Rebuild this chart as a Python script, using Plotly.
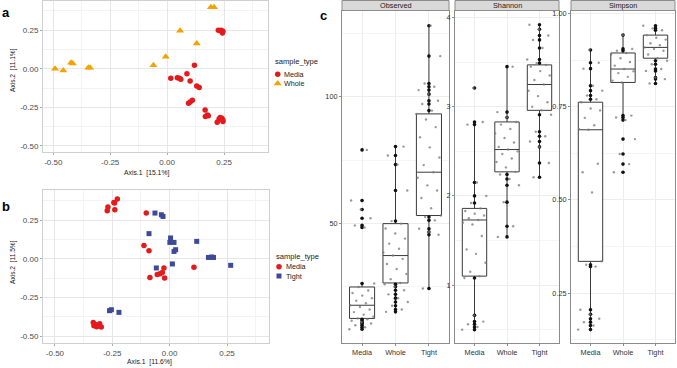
import plotly.graph_objects as go

W, H = 677, 368

# ---------------- Panel a : PCoA Media vs Whole ----------------
a_media_x = [0.016, 0.045, 0.054, 0.060, 0.087, 0.101, 0.120, 0.130, 0.141, 0.094, 0.101, 0.111,
             0.167, 0.181, 0.168, 0.177, 0.233, 0.240, 0.245, 0.228, 0.220, 0.245,
             0.225, 0.233, 0.245, 0.243, 0.237]
a_media_y = [-0.062, -0.058, -0.062, -0.069, -0.032, -0.080, 0.023, -0.112, -0.122, -0.223, -0.215, -0.204,
             -0.268, -0.305, -0.309, -0.300, -0.315, -0.321, -0.332, -0.326, -0.347, -0.341,
             0.248, 0.246, 0.242, 0.231, 0.248]
a_whole_x = [-0.492, -0.456, -0.422, -0.414, -0.346, -0.338, -0.060, -0.006, 0.057, 0.130, 0.192, 0.206]
a_whole_y = [0.000, -0.011, 0.039, 0.034, 0.006, 0.006, 0.023, 0.077, 0.246, 0.163, 0.398, 0.398]

# ---------------- Panel b : PCoA Media vs Tight ----------------
b_media_x = [-0.228, -0.240, -0.243, -0.239, -0.269, -0.272, -0.102, -0.112, -0.090, -0.086, -0.054,
             -0.042, -0.032, -0.025, -0.022, 0.106, -0.333, -0.330, -0.315, -0.305, -0.298, -0.318, -0.324]
b_media_y = [0.386, 0.360, 0.364, 0.317, 0.334, 0.310, 0.295, 0.086, 0.052, -0.121, -0.103,
             -0.097, -0.089, -0.060, -0.125, -0.056, -0.412, -0.433, -0.431, -0.420, -0.442, -0.440, -0.425]
b_tight_x = [-0.064, -0.036, -0.029, -0.090, 0.004, 0.001, 0.019, 0.019, 0.026, 0.118, 0.169, 0.183,
             0.191, 0.266, 0.012, -0.058, -0.262, -0.254, -0.221]
b_tight_y = [0.295, 0.284, 0.273, 0.162, 0.134, 0.105, 0.105, 0.047, 0.058, 0.112, 0.008, 0.011,
             0.008, -0.043, -0.034, -0.060, -0.336, -0.330, -0.347]

# ---------------- Panel c : alpha diversity ----------------
groups = ["Media", "Whole", "Tight"]
metrics = ["Observed", "Shannon", "Simpson"]

obs_media = [8.2, 9.0, 9.8, 10.5, 11.0, 11.6, 12.2, 12.5, 13.2, 14.0, 15.0, 16.0, 17.0, 17.7, 18.5, 19.5,
             20.5, 21.5, 22.5, 23.5, 24.9, 26.3, 48.4, 49.2, 52.0, 55.5, 59.0, 79.0]
obs_whole = [15.1, 16.0, 17.5, 19.0, 20.5, 22.0, 23.6, 25.0, 26.0, 26.5, 28.0, 30.0, 32.0, 34.0, 36.0, 37.3,
             38.5, 40.0, 42.0, 44.0, 46.0, 48.0, 49.9, 50.9, 63.0, 73.2, 76.8, 80.3]
obs_tight = [24.3, 45.5, 46.6, 47.9, 51.2, 52.5, 53.1, 56.0, 60.0, 63.0, 65.0, 68.0, 70.2, 73.0, 76.0, 80.0,
             84.0, 88.0, 91.0, 93.2, 94.5, 97.1, 98.4, 101.0, 102.6, 103.9, 105.2, 116.0, 128.0]
obs_q1 = [12.5, 26.5, 53.1]
obs_med = [17.7, 37.3, 70.2]
obs_q3 = [24.9, 49.9, 93.2]
obs_lo = [8.2, 15.1, 24.3]
obs_hi = [26.3, 80.3, 128.0]

sha_media = [0.50, 0.53, 0.56, 0.59, 0.66, 1.08, 1.10, 1.15, 1.25, 1.35, 1.40, 1.55, 1.68, 1.70, 1.73, 1.75,
             1.78, 1.80, 1.83, 1.86, 1.92, 2.00, 2.15, 2.80, 2.83, 3.21]
sha_whole = [1.54, 1.66, 1.93, 2.12, 2.19, 2.24, 2.27, 2.32, 2.38, 2.42, 2.47, 2.50, 2.52, 2.55, 2.60, 2.65,
             2.70, 2.75, 2.80, 2.83, 2.88, 2.94, 3.45]
sha_tight = [2.21, 2.37, 2.55, 2.61, 2.67, 2.72, 2.91, 2.96, 3.00, 3.05, 3.12, 3.18, 3.25, 3.30, 3.35, 3.40,
             3.45, 3.47, 3.49, 3.53, 3.66, 3.75, 3.80, 3.87, 3.92]
sha_q1 = [1.10, 2.27, 2.96]
sha_med = [1.73, 2.52, 3.25]
sha_q3 = [1.86, 2.83, 3.47]
sha_lo = [0.50, 1.54, 2.21]
sha_hi = [2.83, 3.45, 3.92]

sim_media = [0.152, 0.163, 0.172, 0.181, 0.193, 0.205, 0.321, 0.326, 0.335, 0.520, 0.574, 0.597, 0.688,
             0.690, 0.700, 0.720, 0.740, 0.745, 0.762, 0.770, 0.780, 0.793, 0.806, 0.852, 0.868, 0.902]
sim_whole = [0.574, 0.596, 0.623, 0.663, 0.714, 0.721, 0.726, 0.815, 0.820, 0.830, 0.840, 0.845, 0.851,
             0.860, 0.870, 0.880, 0.890, 0.894, 0.900, 0.905, 0.942]
sim_tight = [0.812, 0.824, 0.828, 0.846, 0.851, 0.864, 0.873, 0.880, 0.890, 0.900, 0.905, 0.909, 0.915,
             0.920, 0.930, 0.935, 0.942, 0.955, 0.960, 0.967]
sim_q1 = [0.335, 0.815, 0.880]
sim_med = [0.688, 0.851, 0.909]
sim_q3 = [0.762, 0.894, 0.942]
sim_lo = [0.152, 0.714, 0.812]
sim_hi = [0.902, 0.942, 0.967]

# ---------------- styling ----------------
RED = "#E41A1C"
ORANGE = "#F2A300"
BLUE = "#3D4A9C"
NARROW = "Liberation Sans Narrow, Arial Narrow, Liberation Sans, Arial, sans-serif"
REG = "Liberation Sans, Arial, sans-serif"
GRID = "#E6E6E6"
MINOR = "#F3F3F3"
DARK = "#1A1A1A"


def px_x(p):
    return p / W


def px_y(p):
    return 1 - p / H


fig = go.Figure()

# Panel a traces
fig.add_trace(go.Scatter(x=a_media_x, y=a_media_y, mode="markers", name="Media",
                         marker=dict(color=RED, size=5.5, symbol="circle"), xaxis="x", yaxis="y"))
fig.add_trace(go.Scatter(x=a_whole_x, y=a_whole_y, mode="markers", name="Whole",
                         marker=dict(color=ORANGE, size=7, symbol="triangle-up"), xaxis="x", yaxis="y"))
# Panel b traces
fig.add_trace(go.Scatter(x=b_media_x, y=b_media_y, mode="markers", name="Media",
                         marker=dict(color=RED, size=5.5, symbol="circle"), xaxis="x2", yaxis="y2"))
fig.add_trace(go.Scatter(x=b_tight_x, y=b_tight_y, mode="markers", name="Tight",
                         marker=dict(color=BLUE, size=5, symbol="square"), xaxis="x2", yaxis="y2"))

facets = [
    ([obs_media, obs_whole, obs_tight], obs_q1, obs_med, obs_q3, obs_lo, obs_hi),
    ([sha_media, sha_whole, sha_tight], sha_q1, sha_med, sha_q3, sha_lo, sha_hi),
    ([sim_media, sim_whole, sim_tight], sim_q1, sim_med, sim_q3, sim_lo, sim_hi),
]

for fi, (vals, q1, med, q3, lo, hi) in enumerate(facets):
    xa = "x%d" % (fi + 3)
    ya = "y%d" % (fi + 3)
    fig.add_trace(go.Box(x=[0, 1, 2], q1=q1, median=med, q3=q3, lowerfence=lo, upperfence=hi,
                         width=0.75, whiskerwidth=0, boxpoints=False, fillcolor="white",
                         line=dict(color="#3a3a3a", width=1), showlegend=False,
                         xaxis=xa, yaxis=ya, hoverinfo="skip"))
    for gi, v in enumerate(vals):
        # centred points: in the reference the white box hides those inside it
        vis = [t for t in v if t < q1[gi] or t > q3[gi]]
        fig.add_trace(go.Scatter(x=[gi] * len(vis), y=vis, mode="markers", showlegend=False,
                                 marker=dict(color="#111111", size=3.6),
                                 xaxis=xa, yaxis=ya, hoverinfo="skip"))
    for gi, v in enumerate(vals):
        n = len(v)
        # deterministic horizontal jitter (positions only)
        jit = [gi + ((k * 0.6180339 + 0.13 * gi) % 1.0 - 0.5) * 0.76 for k in range(n)]
        fig.add_trace(go.Scatter(x=jit, y=v, mode="markers", showlegend=False,
                                 marker=dict(color="rgba(120,120,120,0.75)", size=2.4),
                                 xaxis=xa, yaxis=ya, hoverinfo="skip"))

# legend keys (manual legend, drawn on a pixel-space overlay axis)
legend_keys = [
    (277.7, 74.3, RED, "circle", 5.5), (277.7, 83.6, ORANGE, "triangle-up", 7),
    (279.0, 266.7, RED, "circle", 5.5), (279.0, 276.0, BLUE, "square", 5),
]
for kx, ky, kc, ks, kz in legend_keys:
    fig.add_trace(go.Scatter(x=[kx], y=[ky], mode="markers", showlegend=False, hoverinfo="skip",
                             marker=dict(color=kc, symbol=ks, size=kz), xaxis="x6", yaxis="y6"))

tickfont_ab = dict(family=NARROW, size=8, color="#4D4D4D")


def pcoa_axis(dom, rng, anchor, ticks):
    return dict(domain=dom, range=rng, anchor=anchor, tickvals=ticks,
                ticktext=["%.2f" % t for t in ticks],
                showgrid=True, gridcolor=GRID, gridwidth=1,
                minor=dict(showgrid=True, gridcolor=MINOR, gridwidth=0.6,
                           tickvals=[-0.625, -0.375, -0.125, 0.125, 0.375]),
                zeroline=False, showline=True, mirror=True, linecolor="#CFCFCF", linewidth=1,
                ticks="outside", ticklen=2, tickcolor="#AAAAAA", tickfont=tickfont_ab)


ab_ticks = [-0.50, -0.25, 0.00, 0.25]
layout = dict(
    width=W, height=H, margin=dict(l=0, r=0, t=0, b=0), showlegend=False,
    paper_bgcolor="white", plot_bgcolor="rgba(0,0,0,0)",
    xaxis=pcoa_axis([px_x(43), px_x(268)], [-0.545, 0.443], "y", ab_ticks),
    yaxis=pcoa_axis([px_y(152), px_y(1)], [-0.539, 0.438], "x", ab_ticks),
    xaxis2=pcoa_axis([px_x(43), px_x(269)], [-0.552, 0.433], "y2", ab_ticks),
    yaxis2=pcoa_axis([px_y(343), px_y(190)], [-0.545, 0.444], "x2", ab_ticks),
    xaxis6=dict(domain=[0, 1], range=[0, W], visible=False, anchor="y6", fixedrange=True),
    yaxis6=dict(domain=[0, 1], range=[H, 0], visible=False, anchor="x6", fixedrange=True),
)

facet_x = [(342, 449), (455, 559), (571, 675)]
facet_yr = [[2.8, 134], [0.35, 4.08], [0.116, 1.008]]
facet_ticks = [[50, 100], [1, 2, 3, 4], [0.25, 0.50, 0.75, 1.00]]
facet_text = [["50", "100"], ["1", "2", "3", "4"], ["0.25", "0.50", "0.75", "1.00"]]
facet_minor = [[25, 75, 125], [0.5, 1.5, 2.5, 3.5], [0.125, 0.375, 0.625, 0.875]]
panel_top, panel_bot, strip_top = 10.5, 343, 0.5

shapes = []
annotations = []
for fi in range(3):
    x0, x1 = facet_x[fi]
    layout["xaxis%d" % (fi + 3)] = dict(
        domain=[px_x(x0), px_x(x1)], range=[-0.6, 2.6], anchor="y%d" % (fi + 3),
        tickvals=[0, 1, 2], ticktext=groups, showgrid=True, gridcolor="#EDEDED",
        zeroline=False, showline=True, mirror=True, linecolor="#8C8C8C", linewidth=1,
        ticks="outside", ticklen=2, tickcolor="#8C8C8C",
        tickfont=dict(family=NARROW, size=7.3, color="#333333"))
    layout["yaxis%d" % (fi + 3)] = dict(
        domain=[px_y(panel_bot), px_y(panel_top)], range=facet_yr[fi], anchor="x%d" % (fi + 3),
        tickvals=facet_ticks[fi], ticktext=facet_text[fi], showgrid=True, gridcolor="#EDEDED",
        minor=dict(showgrid=True, gridcolor="#F5F5F5", gridwidth=0.6, tickvals=facet_minor[fi]),
        zeroline=False, showline=True, mirror=True, linecolor="#8C8C8C", linewidth=1,
        ticks="outside", ticklen=2, tickcolor="#8C8C8C",
        tickfont=dict(family=NARROW, size=7.3, color="#333333"))
    shapes.append(dict(type="rect", xref="paper", yref="paper",
                       x0=px_x(x0), x1=px_x(x1), y0=px_y(panel_top), y1=px_y(strip_top),
                       fillcolor="#D9D9D9", line=dict(color="#8C8C8C", width=1), layer="above"))
    annotations.append(dict(text=metrics[fi], xref="paper", yref="paper",
                            x=px_x((x0 + x1) / 2), y=px_y((panel_top + strip_top) / 2),
                            showarrow=False, font=dict(family=NARROW, size=7.3, color=DARK),
                            xanchor="center", yanchor="middle"))

# axis titles, legend texts and panel letters
title_font = dict(family=NARROW, size=6.8, color=DARK)
vtitle_font = dict(family=REG, size=6.6, color=DARK)
leg_title_font = dict(family=NARROW, size=7.6, color=DARK)
leg_font = dict(family=NARROW, size=7.2, color=DARK)


def ann(text, x, y, font, xanchor="center", angle=0):
    return dict(text=text, x=px_x(x), y=px_y(y), xref="paper", yref="paper", showarrow=False,
                font=font, xanchor=xanchor, yanchor="middle", textangle=angle)


letter_font = dict(family=REG, size=13, color="black")
annotations += [
    ann("Axis.1  [15.1%]", 146, 173, title_font),
    ann("Axis.2  [11.1%]", 13, 70, vtitle_font, angle=-90),
    ann("Axis.1  [11.6%]", 149, 362, title_font),
    ann("Axis.2  [11.5%]", 13, 262, vtitle_font, angle=-90),
    ann("<b>a</b>", 0, 12, letter_font, xanchor="left"),
    ann("<b>b</b>", 0, 206, letter_font, xanchor="left"),
    ann("<b>c</b>", 318, 15, letter_font, xanchor="left"),
    ann("sample_type", 273, 62, leg_title_font, xanchor="left"),
    ann("Media", 282, 74.3, leg_font, xanchor="left"),
    ann("Whole", 282, 83.8, leg_font, xanchor="left"),
    ann("sample_type", 274, 256, leg_title_font, xanchor="left"),
    ann("Media", 283.5, 266.7, leg_font, xanchor="left"),
    ann("Tight", 283.5, 276.2, leg_font, xanchor="left"),
]

layout["shapes"] = shapes
layout["annotations"] = annotations

fig.update_layout(**layout)
fig.write_html("out.html", config={"displayModeBar": False},
               post_script="document.body.style.margin='0px';")
